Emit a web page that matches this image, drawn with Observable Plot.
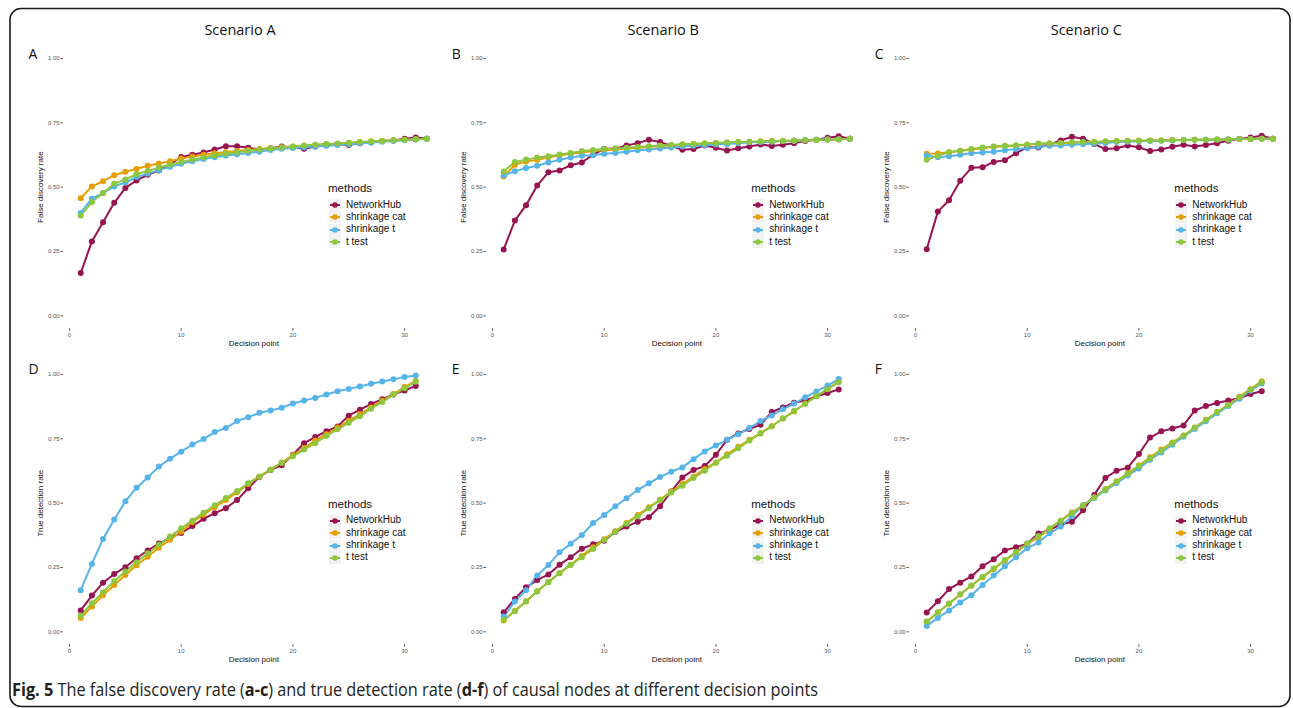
<!DOCTYPE html>
<html>
<head>
<meta charset="utf-8">
<script src="https://cdn.jsdelivr.net/npm/d3@7"></script>
<script src="https://cdn.jsdelivr.net/npm/@observablehq/plot@0.6"></script>
<style>
  html, body { margin: 0; padding: 0; background: #fff; }
  #fig { position: relative; width: 1293px; height: 708px; overflow: hidden; background: #fff; }
  .abs { position: absolute; white-space: nowrap; }
  .title { font-family: "Open Sans", sans-serif; font-size: 14.5px; color: #111; transform: translateX(-50%); line-height: 18px; }
  .letter { font-family: "Open Sans", sans-serif; font-size: 14px; color: #111; line-height: 16px; }
  .lgTitle { font-family: "Liberation Sans", Arial, sans-serif; font-size: 11.5px; color: #111; line-height: 14px; }
  .lgText { font-family: "Liberation Sans", Arial, sans-serif; font-size: 10px; color: #111; line-height: 12px; }
  #caption { font-family: "Open Sans", sans-serif; font-size: 18px; color: #231f20; transform-origin: 0 50%; line-height: 22px; }
</style>
</head>
<body>
<div id="fig"></div>
<script>
// ---------- data ----------
const methods = ["NetworkHub", "shrinkage cat", "shrinkage t", "t test"];
const methodColors = ["#961450", "#E69F00", "#56B4E9", "#8DC63F"];
const scenarios = ["Scenario A", "Scenario B", "Scenario C"];
const panelLetters = ["A", "B", "C", "D", "E", "F"];
const xTicks = [0, 10, 20, 30];
const yTicks = [0, 0.25, 0.5, 0.75, 1];
const xLabel = "Decision point";
const yLabelTop = "False discovery rate";
const yLabelBottom = "True detection rate";
const pointsTop = [1,2,3,4,5,6,7,8,9,10,11,12,13,14,15,16,17,18,19,20,21,22,23,24,25,26,27,28,29,30,31,32];
const pointsBottom = [1,2,3,4,5,6,7,8,9,10,11,12,13,14,15,16,17,18,19,20,21,22,23,24,25,26,27,28,29,30,31];

// Panel A: false discovery rate, scenario A
const fdrA_networkHub = [0.166,0.289,0.364,0.439,0.497,0.526,0.548,0.565,0.588,0.617,0.626,0.635,0.646,0.659,0.659,0.653,0.646,0.651,0.658,0.655,0.649,0.658,0.663,0.668,0.664,0.671,0.676,0.679,0.681,0.688,0.693,0.688];
const fdrA_shrinkCat  = [0.457,0.503,0.523,0.546,0.560,0.571,0.583,0.592,0.601,0.611,0.619,0.626,0.632,0.636,0.640,0.644,0.648,0.651,0.655,0.658,0.661,0.664,0.667,0.669,0.672,0.674,0.677,0.679,0.681,0.684,0.686,0.688];
const fdrA_shrinkT    = [0.400,0.455,0.477,0.503,0.518,0.539,0.552,0.566,0.579,0.591,0.601,0.609,0.616,0.623,0.628,0.633,0.638,0.644,0.649,0.652,0.655,0.658,0.661,0.664,0.667,0.670,0.673,0.676,0.679,0.682,0.685,0.688];
const fdrA_tTest      = [0.390,0.442,0.477,0.513,0.530,0.550,0.563,0.576,0.587,0.598,0.607,0.615,0.623,0.630,0.636,0.641,0.646,0.650,0.654,0.658,0.662,0.665,0.668,0.670,0.673,0.675,0.677,0.679,0.682,0.684,0.686,0.688];
// Panel B
const fdrB_networkHub = [0.258,0.370,0.430,0.506,0.558,0.565,0.585,0.596,0.626,0.649,0.649,0.662,0.671,0.684,0.675,0.661,0.645,0.648,0.662,0.653,0.642,0.651,0.658,0.666,0.660,0.665,0.671,0.679,0.684,0.692,0.698,0.688];
const fdrB_shrinkCat  = [0.541,0.587,0.600,0.606,0.616,0.623,0.630,0.635,0.640,0.643,0.646,0.650,0.653,0.657,0.659,0.663,0.666,0.668,0.670,0.671,0.672,0.674,0.675,0.676,0.678,0.679,0.680,0.681,0.683,0.684,0.685,0.688];
const fdrB_shrinkT    = [0.545,0.562,0.574,0.583,0.596,0.606,0.615,0.622,0.624,0.630,0.633,0.638,0.643,0.646,0.650,0.654,0.658,0.661,0.663,0.666,0.668,0.671,0.674,0.675,0.676,0.679,0.680,0.683,0.684,0.685,0.686,0.688];
const fdrB_tTest      = [0.561,0.598,0.607,0.615,0.620,0.627,0.633,0.640,0.644,0.648,0.650,0.653,0.656,0.659,0.662,0.664,0.667,0.668,0.671,0.672,0.674,0.675,0.676,0.678,0.679,0.680,0.681,0.683,0.684,0.685,0.686,0.688];
// Panel C
const fdrC_networkHub = [0.259,0.405,0.449,0.525,0.575,0.577,0.598,0.605,0.632,0.655,0.654,0.666,0.681,0.696,0.688,0.668,0.648,0.651,0.662,0.655,0.640,0.646,0.657,0.665,0.658,0.664,0.671,0.680,0.687,0.693,0.700,0.688];
const fdrC_shrinkCat  = [0.630,0.631,0.636,0.641,0.646,0.651,0.657,0.659,0.661,0.665,0.668,0.670,0.671,0.672,0.674,0.675,0.676,0.678,0.679,0.680,0.681,0.681,0.683,0.683,0.684,0.684,0.685,0.685,0.687,0.687,0.688,0.688];
const fdrC_shrinkT    = [0.623,0.616,0.620,0.626,0.632,0.635,0.638,0.643,0.648,0.651,0.657,0.661,0.662,0.665,0.667,0.670,0.672,0.675,0.676,0.678,0.679,0.680,0.681,0.683,0.684,0.684,0.685,0.685,0.687,0.687,0.688,0.688];
const fdrC_tTest      = [0.606,0.622,0.636,0.641,0.648,0.654,0.658,0.661,0.663,0.666,0.670,0.671,0.672,0.674,0.675,0.676,0.678,0.679,0.680,0.680,0.681,0.681,0.683,0.683,0.684,0.684,0.685,0.685,0.687,0.687,0.688,0.688];
// Panel D: true detection rate, scenario A
const tdrD_networkHub = [0.083,0.141,0.191,0.225,0.251,0.286,0.316,0.343,0.365,0.384,0.411,0.439,0.461,0.480,0.512,0.558,0.602,0.629,0.647,0.688,0.733,0.757,0.779,0.798,0.840,0.863,0.885,0.904,0.922,0.938,0.955];
const tdrD_shrinkCat  = [0.054,0.098,0.142,0.182,0.221,0.259,0.292,0.327,0.358,0.389,0.426,0.455,0.484,0.512,0.542,0.574,0.603,0.630,0.658,0.687,0.714,0.743,0.768,0.794,0.820,0.846,0.872,0.898,0.924,0.951,0.975];
const tdrD_shrinkT    = [0.162,0.264,0.361,0.436,0.507,0.560,0.600,0.642,0.673,0.700,0.728,0.749,0.776,0.792,0.819,0.834,0.851,0.860,0.871,0.887,0.899,0.909,0.922,0.935,0.944,0.953,0.964,0.973,0.981,0.990,0.996];
const tdrD_tTest      = [0.063,0.111,0.154,0.197,0.234,0.270,0.305,0.338,0.370,0.402,0.432,0.463,0.492,0.520,0.547,0.577,0.604,0.630,0.656,0.682,0.708,0.733,0.761,0.787,0.812,0.838,0.867,0.893,0.921,0.946,0.972];
// Panel E
const tdrE_networkHub = [0.076,0.128,0.173,0.201,0.223,0.261,0.290,0.323,0.340,0.354,0.389,0.409,0.428,0.445,0.488,0.545,0.600,0.629,0.644,0.688,0.746,0.771,0.788,0.805,0.854,0.872,0.890,0.899,0.915,0.928,0.942];
const tdrE_shrinkCat  = [0.044,0.082,0.119,0.158,0.194,0.228,0.261,0.295,0.329,0.360,0.391,0.423,0.454,0.484,0.514,0.545,0.574,0.603,0.633,0.658,0.690,0.719,0.746,0.772,0.799,0.829,0.856,0.887,0.916,0.943,0.973];
const tdrE_shrinkT    = [0.060,0.118,0.162,0.219,0.260,0.309,0.342,0.376,0.423,0.454,0.488,0.519,0.551,0.577,0.602,0.622,0.639,0.671,0.701,0.724,0.746,0.768,0.792,0.819,0.841,0.865,0.887,0.911,0.934,0.957,0.982];
const tdrE_tTest      = [0.047,0.080,0.118,0.157,0.193,0.228,0.260,0.290,0.322,0.357,0.389,0.420,0.449,0.480,0.512,0.541,0.568,0.598,0.626,0.657,0.684,0.713,0.743,0.771,0.799,0.829,0.858,0.886,0.916,0.943,0.970];
// Panel F
const tdrF_networkHub = [0.075,0.119,0.166,0.191,0.215,0.255,0.282,0.316,0.329,0.342,0.382,0.396,0.417,0.428,0.472,0.532,0.598,0.626,0.638,0.691,0.755,0.779,0.790,0.802,0.860,0.877,0.889,0.899,0.908,0.924,0.935];
const tdrF_shrinkCat  = [0.038,0.076,0.109,0.145,0.179,0.212,0.243,0.276,0.308,0.342,0.367,0.400,0.432,0.464,0.490,0.523,0.555,0.585,0.616,0.646,0.678,0.708,0.736,0.763,0.794,0.824,0.854,0.881,0.913,0.943,0.974];
const tdrF_shrinkT    = [0.023,0.054,0.083,0.114,0.142,0.182,0.219,0.255,0.290,0.325,0.347,0.383,0.409,0.449,0.492,0.520,0.549,0.578,0.607,0.635,0.669,0.697,0.727,0.758,0.788,0.818,0.849,0.877,0.906,0.937,0.965];
const tdrF_tTest      = [0.040,0.075,0.110,0.146,0.180,0.214,0.246,0.279,0.311,0.343,0.372,0.402,0.431,0.461,0.492,0.522,0.552,0.583,0.613,0.643,0.674,0.704,0.734,0.762,0.793,0.823,0.853,0.881,0.911,0.941,0.970];

const panels = [
  {xs: pointsTop, ylab: yLabelTop, series: [fdrA_networkHub, fdrA_shrinkCat, fdrA_shrinkT, fdrA_tTest]},
  {xs: pointsTop, ylab: yLabelTop, series: [fdrB_networkHub, fdrB_shrinkCat, fdrB_shrinkT, fdrB_tTest]},
  {xs: pointsTop, ylab: yLabelTop, series: [fdrC_networkHub, fdrC_shrinkCat, fdrC_shrinkT, fdrC_tTest]},
  {xs: pointsBottom, ylab: yLabelBottom, series: [tdrD_networkHub, tdrD_shrinkCat, tdrD_shrinkT, tdrD_tTest]},
  {xs: pointsBottom, ylab: yLabelBottom, series: [tdrE_networkHub, tdrE_shrinkCat, tdrE_shrinkT, tdrE_tTest]},
  {xs: pointsBottom, ylab: yLabelBottom, series: [tdrF_networkHub, tdrF_shrinkCat, tdrF_shrinkT, tdrF_tTest]}
];

// ---------- layout ----------
const fig = document.getElementById("fig");
const colX = [0, 423.2, 846.3];
const rowY = [0, 315.7];
const W = 450, H = 360;
const mL = 62.9, mR = 6.3, mT = 45.1, mB = 31.8;

// border
const ns = "http://www.w3.org/2000/svg";
const border = document.createElementNS(ns, "svg");
border.setAttribute("width", 1293); border.setAttribute("height", 708);
border.style.position = "absolute"; border.style.left = "0"; border.style.top = "0";
const rect = document.createElementNS(ns, "rect");
rect.setAttribute("x", 10); rect.setAttribute("y", 8.5);
rect.setAttribute("width", 1280); rect.setAttribute("height", 698);
rect.setAttribute("rx", 11); rect.setAttribute("fill", "none");
rect.setAttribute("stroke", "#1a1a1a"); rect.setAttribute("stroke-width", 1.6);
border.appendChild(rect);
fig.appendChild(border);

function addDiv(cls, text, left, top) {
  const d = document.createElement("div");
  d.className = "abs " + cls;
  d.textContent = text;
  d.style.left = left + "px"; d.style.top = top + "px";
  fig.appendChild(d);
  return d;
}

panels.forEach((p, k) => {
  const c = k % 3, r = Math.floor(k / 3);
  const data = methods.flatMap((m, i) => p.xs.map((x, j) => ({x, y: p.series[i][j], method: m})));
  const chart = Plot.plot({
    width: W, height: H,
    marginLeft: mL, marginRight: mR, marginTop: mT, marginBottom: mB,
    style: {background: "transparent", fontFamily: "'Liberation Sans', Arial, sans-serif", overflow: "visible"},
    x: {domain: [-0.55, 33.55]},
    y: {domain: [-0.05, 1.05]},
    color: {domain: methods, range: methodColors},
    marks: [
      Plot.axisX({ticks: xTicks, tickSize: 2.5, tickPadding: 1.5, fontSize: 6, color: "#555", label: null}),
      Plot.axisY({ticks: yTicks, tickFormat: d3.format(".2f"), tickSize: 2.4, tickPadding: 1.3, fontSize: 6, color: "#555", label: null}),
      Plot.line(data, {x: "x", y: "y", z: "method", stroke: "method", strokeWidth: 2}),
      Plot.dot(data, {x: "x", y: "y", fill: "method", r: 3}),
      Plot.text([xLabel], {text: d => d, frameAnchor: "bottom", lineAnchor: "middle", dy: 15.2, fontSize: 8, fill: "#111"}),
      Plot.text([p.ylab], {text: d => d, frameAnchor: "left", rotate: -90, textAnchor: "middle", lineAnchor: "middle", dx: -23, fontSize: 8, fill: "#111"})
    ]
  });
  chart.style.position = "absolute";
  chart.style.left = colX[c] + "px";
  chart.style.top = rowY[r] + "px";
  fig.appendChild(chart);

  // panel letter
  addDiv("letter", panelLetters[k], 28.5 + colX[c], 45.5 + rowY[r]);

  // legend
  const lx = 328 + colX[c], ly = rowY[r];
  addDiv("lgTitle", "methods", lx, ly + 181);
  methods.forEach((m, i) => {
    const cy = ly + 205 + i * 12.4;
    const key = document.createElementNS(ns, "svg");
    key.setAttribute("width", 12); key.setAttribute("height", 12);
    key.style.position = "absolute";
    key.style.left = (lx + 1) + "px"; key.style.top = (cy - 6) + "px";
    const bg = document.createElementNS(ns, "rect");
    bg.setAttribute("width", 12); bg.setAttribute("height", 12); bg.setAttribute("fill", "#f2f2f2");
    const ln = document.createElementNS(ns, "line");
    ln.setAttribute("x1", 1); ln.setAttribute("x2", 11); ln.setAttribute("y1", 6); ln.setAttribute("y2", 6);
    ln.setAttribute("stroke", methodColors[i]); ln.setAttribute("stroke-width", 2);
    const ci = document.createElementNS(ns, "circle");
    ci.setAttribute("cx", 6); ci.setAttribute("cy", 6); ci.setAttribute("r", 2.8); ci.setAttribute("fill", methodColors[i]);
    key.appendChild(bg); key.appendChild(ln); key.appendChild(ci);
    fig.appendChild(key);
    addDiv("lgText", m, lx + 18, cy - 6.5);
  });
});

// scenario titles
scenarios.forEach((s, c) => addDiv("title", s, 240 + colX[c], 21));

// caption
const cap = document.createElement("div");
cap.id = "caption"; cap.className = "abs";
cap.style.left = "12px"; cap.style.top = "678px";
cap.innerHTML = "<b>Fig. 5</b> The false discovery rate (<b>a-c</b>) and true detection rate (<b>d-f</b>) of causal nodes at different decision points";
fig.appendChild(cap);
const cw = cap.getBoundingClientRect().width;
cap.style.transform = "scaleX(" + (806 / cw) + ")";
</script>
</body>
</html>
